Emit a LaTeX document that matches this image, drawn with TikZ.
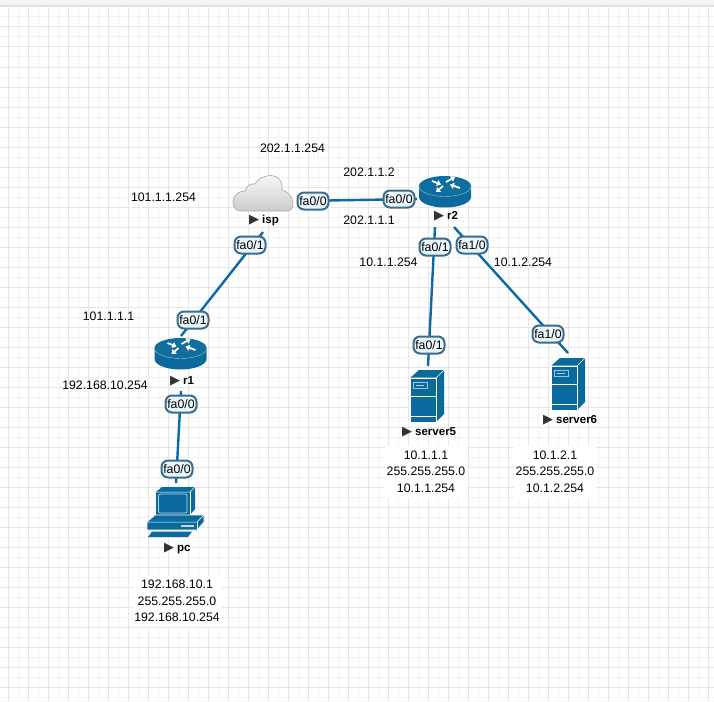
\documentclass[tikz,border=0pt]{standalone}
\usepackage{fontspec}
\setmainfont{Liberation Sans}
\newfontfamily\symfont{DejaVu Sans}
\usetikzlibrary{arrows.meta,calc,positioning}
\definecolor{icon}{HTML}{0A6A9E}
\definecolor{icontop}{HTML}{106E9F}
\definecolor{linkblue}{HTML}{0C69A3}
\definecolor{pillline}{HTML}{3B6C8C}
\definecolor{pillfill}{HTML}{EAF5FC}
\definecolor{gridmajor}{HTML}{E6E6E6}
\definecolor{gridminor}{HTML}{F3F3F3}
\newcommand{\labelmark}{{\symfont\fontsize{13}{13}\selectfont\textcolor{black!80}{▶}}\hspace{3pt}}
\tikzset{
  device/.style={inner sep=0,outer sep=0},
  netlink/.style={draw=linkblue,line width=2.4pt},
  iface/.style={draw=pillline,fill=pillfill,line width=2pt,rounded corners=6.5pt,minimum width=31pt,minimum height=17pt,inner sep=0,font=\fontsize{12.3}{14}\selectfont},
  addr/.style={inner sep=0,font=\fontsize{12.3}{14}\selectfont},
  addrblock/.style={fill=white,inner sep=0,align=center,font=\fontsize{12.3}{16.6}\selectfont},
  devlabel/.style={inner sep=0,anchor=west,font=\fontsize{11.5}{14}\selectfont\bfseries},
  iconline/.style={draw=white,line width=0.6pt,fill=icon},
  routerarrow/.style={white,line width=1.8pt,-{Triangle[length=4pt,width=6pt]}}
}
% router icon, (#1,#2) is the middle of the top face
\newcommand{\drawrouter}[2]{
  \begin{scope}[shift={(#1,#2)}]
    \fill[icon] (-26,0) -- (-26,11) arc [start angle=180, end angle=0, x radius=26, y radius=10.5] -- (26,0) -- cycle;
    \fill[icontop] (0,0) ellipse [x radius=26, y radius=10];
    \draw[white!60!icon,line width=0.4pt] (-26,0.5) arc [start angle=180, end angle=0, x radius=26, y radius=10];
    \draw[routerarrow] (-13,-5) -- (-4,-1.5);
    \draw[routerarrow] (15,2) -- (5,-1.5);
    \draw[routerarrow] (1,-4) -- (10,-9);
    \draw[routerarrow] (-2,0) -- (-9,6);
  \end{scope}
}
% server icon, (#1,#2) is the upper left corner
\newcommand{\drawserver}[2]{
  \begin{scope}[shift={(#1,#2)}]
    \fill[icon] (0,8) -- (9,0) -- (34,0) -- (34,44) -- (26,52) -- (0,52) -- cycle;
    \draw[white,line width=0.6pt] (0,8) -- (26,8) -- (34,0);
    \draw[white,line width=0.6pt] (26,8) -- (26,52);
    \draw[white,line width=0.6pt] (0,8) rectangle (26,52);
    \draw[white,line width=0.8pt] (0,26) -- (26,26);
    \draw[white,line width=0.8pt] (0,46) -- (26,46);
    \draw[white!60!icon,line width=1pt] (3,12) rectangle (17,18);
    \fill[white!70!icon] (6,14.5) rectangle (14,15.5);
  \end{scope}
}
\begin{document}
\begin{tikzpicture}[x=1pt,y=-1pt]
  \useasboundingbox (0,0) rectangle (714,701);
  \fill[white] (0,0) rectangle (714,701);
  % the grid
  \foreach \gx in {18,38,...,698} \draw[gridminor,line width=1pt] (\gx,6) -- (\gx,701);
  \foreach \gy in {17,37,...,697} \draw[gridminor,line width=1pt] (0,\gy) -- (714,\gy);
  \foreach \gx in {8,28,...,708} \draw[gridmajor,line width=1pt] (\gx,6) -- (\gx,701);
  \foreach \gy in {7,27,...,687} \draw[gridmajor,line width=1pt] (0,\gy) -- (714,\gy);
  \fill[black!4] (0,0) rectangle (714,5);
  \fill[black!13] (0,5) rectangle (714,6.5);
  % the addresses under the hosts
  \node[addrblock,minimum width=89pt,minimum height=52pt] (pcaddr) at (177,601) {192.168.10.1\\255.255.255.0\\192.168.10.254};
  \node[addrblock,minimum width=82pt,minimum height=52pt] (server5addr) at (426,471.5) {10.1.1.1\\255.255.255.0\\10.1.1.254};
  \node[addrblock,minimum width=82pt,minimum height=52pt] (server6addr) at (555,471.5) {10.1.2.1\\255.255.255.0\\10.1.2.254};
  % the devices, as empty boxes for the links
  \node[device,minimum width=60pt,minimum height=62pt] (isp) at (263,201) {};
  \node[device,minimum width=56pt,minimum height=56pt] (r2) at (445,199) {};
  \node[device,minimum width=52pt,minimum height=55pt] (r1) at (181,363.5) {};
  \node[device,minimum width=58pt,minimum height=74pt] (pc) at (176,520) {};
  \node[device,minimum width=35pt,minimum height=74pt] (server5) at (428,403) {};
  \node[device,minimum width=35pt,minimum height=75pt] (server6) at (568,390.5) {};
  % the links
  \draw[netlink] ([xshift=5pt]isp.east) -- (r2.west);
  \draw[netlink] (isp.south) -- (r1.north);
  \draw[netlink] (r1.south) -- (pc.north);
  \draw[netlink] ([xshift=-10pt]r2.south) -- (server5.north);
  \draw[netlink] ([xshift=9pt]r2.south) -- (server6.north);
  % the interfaces
  \node[iface] (ispfa00) at (313,201) {fa0/0};
  \node[iface] (r2fa00) at (399,199) {fa0/0};
  \node[iface] (ispfa01) at (250,245) {fa0/1};
  \node[iface] (r2fa01) at (435,247) {fa0/1};
  \node[iface] (r2fa10) at (472,245) {fa1/0};
  \node[iface] (r1fa01) at (193,320) {fa0/1};
  \node[iface] (r1fa00) at (181,404) {fa0/0};
  \node[iface] (pcfa00) at (177,469) {fa0/0};
  \node[iface] (server5fa01) at (429,345) {fa0/1};
  \node[iface] (server6fa10) at (548,334) {fa1/0};
  % routers and servers
  \drawrouter{445}{186}
  \drawrouter{180.5}{348}
  \drawserver{410}{370}
  \drawserver{551}{358}
  % the cloud
  \shade[top color=black!3,bottom color=black!20,draw=black!32,line width=0.7pt] (241,211) .. controls (235,211) and (233,206) .. (233,202) .. controls (233,196) and (238,191) .. (245,191) .. controls (246,186) and (251,183) .. (255,184) .. controls (258,178) and (266,175.5) .. (271,175.5) .. controls (278,175.5) and (283,181) .. (282,190) .. controls (288,191) and (293,198) .. (293,204) .. controls (293,208) and (291,211) .. (286,211) -- cycle;
  % the pc
  \fill[icon] (162,487) -- (195,487) -- (195,509) -- (190,515) -- (156,515) -- (156,492) -- cycle;
  \draw[white,line width=0.5pt] (156,492) -- (190,492) -- (195,487);
  \draw[white,line width=0.5pt] (190,492) -- (190,515);
  \draw[white!70!icon,line width=0.7pt,rounded corners=2pt] (158.5,494) rectangle (187,513);
  \draw[iconline] (147,522) -- (155,515) -- (204,515) -- (204,522) -- (197,530) -- (147,530) -- cycle;
  \draw[white,line width=0.5pt] (147,522) -- (197,522) -- (204,515);
  \draw[white,line width=0.5pt] (197,522) -- (197,530);
  \fill[white!75!icon] (181,525) rectangle (194,526.5);
  \fill[icon] (152,531.5) -- (192,531.5) -- (188,537) -- (148,537) -- cycle;
  % the names
  \node[devlabel] (isplabel) at (249,221) {\labelmark isp};
  \node[devlabel] (r2label) at (434,216) {\labelmark r2};
  \node[devlabel] (r1label) at (170,381) {\labelmark r1};
  \node[devlabel] (pclabel) at (164,549) {\labelmark pc};
  \node[devlabel] (server5label) at (402,432) {\labelmark server5};
  \node[devlabel] (server6label) at (543,420) {\labelmark server6};
  % the addresses around the links
  \node[addr] (ispaddrtop) at (292.5,148) {202.1.1.254};
  \node[addr] (r2addrtop) at (369,172.5) {202.1.1.2};
  \node[addr] (r2addrleft) at (369,220) {202.1.1.1};
  \node[addr] (ispaddrleft) at (163.5,197) {101.1.1.254};
  \node[addr] (r1addrtop) at (108.5,316) {101.1.1.1};
  \node[addr] (r1addrleft) at (105,385) {192.168.10.254};
  \node[addr] (r2addrfive) at (388.5,262) {10.1.1.254};
  \node[addr] (r2addrsix) at (523,262) {10.1.2.254};
\end{tikzpicture}
\end{document}
